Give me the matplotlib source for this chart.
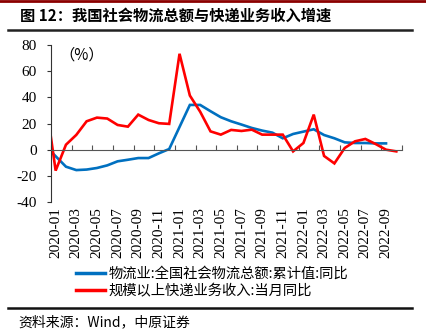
import matplotlib
matplotlib.use("Agg")
import matplotlib.pyplot as plt
import numpy as np

# months from 2019-12 (index -1) to 2022-10 (index 33)
months = [f"{y}-{m:02d}" for y in (2019, 2020, 2021, 2022) for m in range(1, 13)]
months = months[11:11 + 35]

# 物流业:全国社会物流总额:累计值:同比 (None = no January value)
logistics = [3, None, -13, -15.6, -15.2, -14.0, -12.0, -8.9, -7.7, -6.4, -6.4, -2.8, 0.5,
             None, 34.2, 34.2, 29.4, 24.8, 21.7, 19.2, 16.6, 14.6, 13.0, 8.7, 12.0,
             None, 15.6, 11.2, 8.7, 5.6, 5.1, 5.1, 4.8, 4.8, None]
# 规模以上快递业务收入:当月同比
express = [40, -16, 3.8, 11.3, 21.7, 24.5, 23.8, 18.9, 17.6, 26.8, 22.7, 20.2, 19.7,
           73.3, 41.4, 29.0, 14.0, 11.5, 15.1, 14.3, 15.3, 11.5, 11.5, 11.5, -1.3,
           5.1, 26.8, -4.8, -10.5, 1.3, 6.4, 8.2, 4.3, 0.0, -1.3]

tick_labels = [f"{y}-{m:02d}" for y in (2020, 2021, 2022) for m in range(1, 13, 2)][:17]
y_ticks = [-40, -20, 0, 20, 40, 60, 80]

title = "图 12：我国社会物流总额与快递业务收入增速"
source = "资料来源：Wind，中原证券"
legend_names = ["物流业:全国社会物流总额:累计值:同比", "规模以上快递业务收入:当月同比"]

plt.rcParams["font.family"] = "Liberation Serif"
serif = "Liberation Serif"
cjk = ["Noto Sans CJK SC", "DejaVu Sans"]

fig = plt.figure(figsize=(4.26, 3.31), dpi=100)
ax = fig.add_axes([0.1197, 0.3897, 0.8240, 0.4743])

x = np.arange(len(months)) - 1 + 0.45
lx = [xi for xi, v in zip(x, logistics) if v is not None]
ly = [v for v in logistics if v is not None]
ax.plot(lx, ly, color="#0070C0", lw=1.9, solid_joinstyle="miter")
ax.plot(x, express, color="#FF0000", lw=1.9, solid_joinstyle="miter")

ax.set_xlim(0, 34)
ax.set_ylim(-40, 80)
ax.set_yticks(y_ticks)
ax.set_yticklabels([str(v) for v in y_ticks], fontsize=11, fontfamily=serif)
ax.tick_params(axis="y", direction="out", length=3, width=0.8, pad=7, color="#333333")

# x axis line at zero with ticks pointing up, labels at the bottom
ax.spines["bottom"].set_position(("data", 0))
ax.spines["bottom"].set_color("#555555")
ax.spines["left"].set_color("#333333")
ax.spines["top"].set_visible(False)
ax.spines["right"].set_visible(False)
ax.set_xticks(np.arange(0, 35, 2))
ax.tick_params(axis="x", direction="in", length=3.5, width=0.8, labelbottom=False, color="#555555")

sec = ax.secondary_xaxis("bottom")
sec.set_xticks(np.arange(0, 33, 2) + 0.45)
sec.set_xticklabels(tick_labels, rotation=90, fontsize=11, fontfamily=serif)
sec.tick_params(length=0, pad=4)
sec.spines["bottom"].set_visible(False)

ax.text(0.025, 0.935, "（%）", transform=ax.transAxes, fontsize=11, family=cjk,
        va="center", ha="left")

leg = fig.legend(handles=ax.get_lines(), labels=legend_names, loc="upper left",
                 bbox_to_anchor=(0.165, 0.21), frameon=False, prop={"family": cjk, "size": 10.3},
                 handlelength=2.0, handletextpad=0.3, labelspacing=0.2, borderaxespad=0)
for h in leg.get_lines():
    h.set_linewidth(2.5)

fig.text(0.047, 0.952, title, fontsize=11, fontweight="bold", family=cjk, va="center")
fig.text(0.042, 0.027, source, fontsize=10, family=cjk, va="center")

# decorative rules
fig.add_artist(plt.Line2D([0, 1], [0.997, 0.997], color="#8B0000", lw=2, transform=fig.transFigure))
fig.add_artist(plt.Line2D([0.019, 0.967], [0.910, 0.910], color="#222222", lw=1.8, transform=fig.transFigure))
fig.add_artist(plt.Line2D([0.019, 0.967], [0.070, 0.070], color="#111111", lw=1.8, transform=fig.transFigure))

fig.savefig("out.png", dpi=100)
